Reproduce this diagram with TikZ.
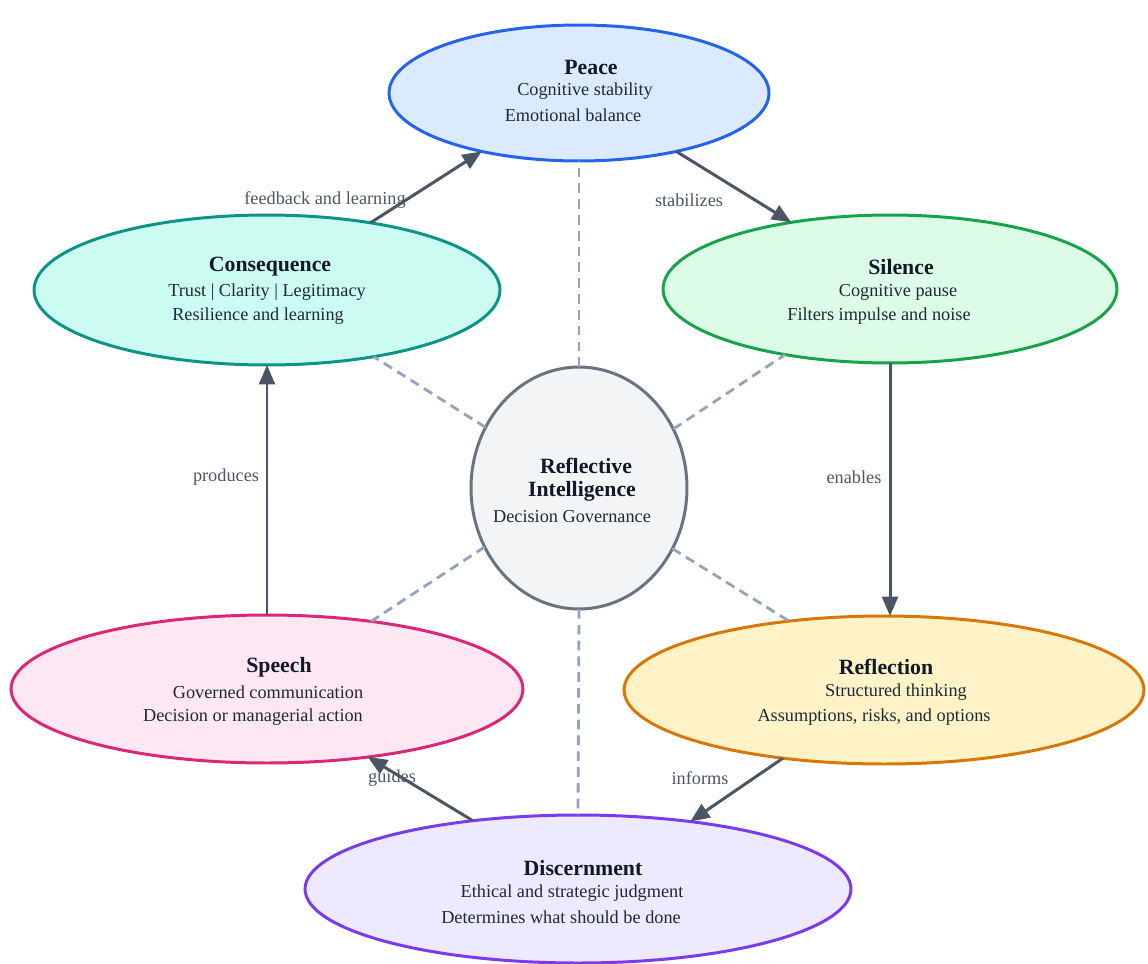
\documentclass[tikz,border=0pt]{standalone}
\usepackage{fontspec}
\setmainfont{Liberation Serif}
\usetikzlibrary{shapes.geometric,arrows.meta}
\definecolor{peaceF}{HTML}{DBEAFE}\definecolor{peaceD}{HTML}{2563EB}
\definecolor{consF}{HTML}{CCFBF1}\definecolor{consD}{HTML}{0D9488}
\definecolor{silF}{HTML}{DCFCE7}\definecolor{silD}{HTML}{16A34A}
\definecolor{cenF}{HTML}{F3F4F6}\definecolor{cenD}{HTML}{6B7280}
\definecolor{spF}{HTML}{FCE7F3}\definecolor{spD}{HTML}{DB2777}
\definecolor{refF}{HTML}{FEF3C7}\definecolor{refD}{HTML}{D97706}
\definecolor{disF}{HTML}{EDE9FE}\definecolor{disD}{HTML}{7C3AED}
\definecolor{arrowC}{HTML}{4B5563}
\definecolor{dashC}{HTML}{94A3B8}
\definecolor{txtC}{HTML}{111827}
\definecolor{subC}{HTML}{1F2937}
\definecolor{lblC}{HTML}{4B5563}
\tikzset{
  oval/.style={ellipse, draw, line width=1.7pt, inner sep=0pt, outer sep=0pt},
  ttl/.style={font=\fontsize{12.4}{14}\selectfont\bfseries, text=txtC, inner sep=0pt},
  sub/.style={font=\fontsize{10.4}{12}\selectfont, text=subC, inner sep=0pt},
  lbl/.style={font=\fontsize{10.4}{12}\selectfont, text=lblC, inner sep=0pt},
  flow/.style={draw=arrowC, line width=1.7pt, -{Triangle[length=11pt,width=9pt]}},
  link/.style={draw=dashC, line width=1.6pt, dash pattern=on 5.5pt off 3.5pt}
}
\begin{document}
\begin{tikzpicture}[x=0.02cm, y=-0.02cm]
\useasboundingbox (0,0) rectangle (1148,963);
% ellipses
\node[oval, fill=peaceF, draw=peaceD, minimum width=7.6cm, minimum height=2.72cm] (peace) at (579,93) {};
\node[oval, fill=consF, draw=consD, minimum width=9.32cm, minimum height=3.0cm] (cons) at (267,290) {};
\node[oval, fill=silF, draw=silD, minimum width=9.08cm, minimum height=2.96cm] (sil) at (890,289) {};
\node[oval, fill=cenF, draw=cenD, minimum width=4.32cm, minimum height=4.84cm] (cen) at (579,488) {};
\node[oval, fill=spF, draw=spD, minimum width=10.24cm, minimum height=2.96cm] (speech) at (267,689) {};
\node[oval, fill=refF, draw=refD, minimum width=10.4cm, minimum height=2.96cm] (refl) at (884,690) {};
\node[oval, fill=disF, draw=disD, minimum width=10.92cm, minimum height=2.96cm] (disc) at (578,889) {};
% texts
\node[ttl] (t1a) at (591,67) {Peace};
\node[sub] (t1b) at (585,91) {Cognitive stability};
\node[sub] (t1c) at (573,115) {Emotional balance};
\node[ttl] (t2a) at (270,267) {Consequence};
\node[sub] (t2b) at (267,292) {Trust | Clarity | Legitimacy};
\node[sub] (t2c) at (258,316) {Resilience and learning};
\node[ttl] (t3a) at (901,267) {Silence};
\node[sub] (t3b) at (898,292) {Cognitive pause};
\node[sub] (t3c) at (879,316) {Filters impulse and noise};
\node[ttl] (t4a) at (586,466) {Reflective};
\node[ttl] (t4b) at (582,491) {Intelligence};
\node[sub] (t4c) at (572,517) {Decision Governance};
\node[ttl] (t5a) at (279,667) {Speech};
\node[sub] (t5b) at (268,692) {Governed communication};
\node[sub] (t5c) at (253,717) {Decision or managerial action};
\node[ttl] (t6a) at (886,667) {Reflection};
\node[sub] (t6b) at (896,692) {Structured thinking};
\node[sub] (t6c) at (874,717) {Assumptions, risks, and options};
\node[ttl] (t7a) at (583,868) {Discernment};
\node[sub] (t7b) at (572,893) {Ethical and strategic judgment};
\node[sub] (t7c) at (561,917) {Determines what should be done};
% dashed links
\draw[link] (cen.north) -- (peace.south);
\draw[link] (cen.south) -- (disc.north);
\draw[link] (cen.147.7) -- (cons.328);
\draw[link] (cen.32.3) -- (sil.212);
\draw[link] (cen.212.7) -- (speech.33.3);
\draw[link] (cen.327.3) -- (refl.144.6);
% flows
\draw[flow] (cons.33) -- (peace.211.5);
\draw[flow] (peace.329.5) -- (sil.146.7);
\draw[flow] (sil.south) -- (sil.south |- refl.north);
\draw[flow] (refl.214.2) -- (disc.31.3);
\draw[flow] (disc.147.7) -- (speech.326.7);
\draw[flow] (speech.north) -- (cons.south);
% labels
\node[lbl] (l1) at (325,200) {feedback and learning};
\node[lbl] (l2) at (689,200) {stabilizes};
\node[lbl] (l3) at (854,477) {enables};
\node[lbl] (l4) at (226,477) {produces};
\node[lbl] (l5) at (392,778) {guides};
\node[lbl] (l6) at (700,778) {informs};
\end{tikzpicture}
\end{document}
